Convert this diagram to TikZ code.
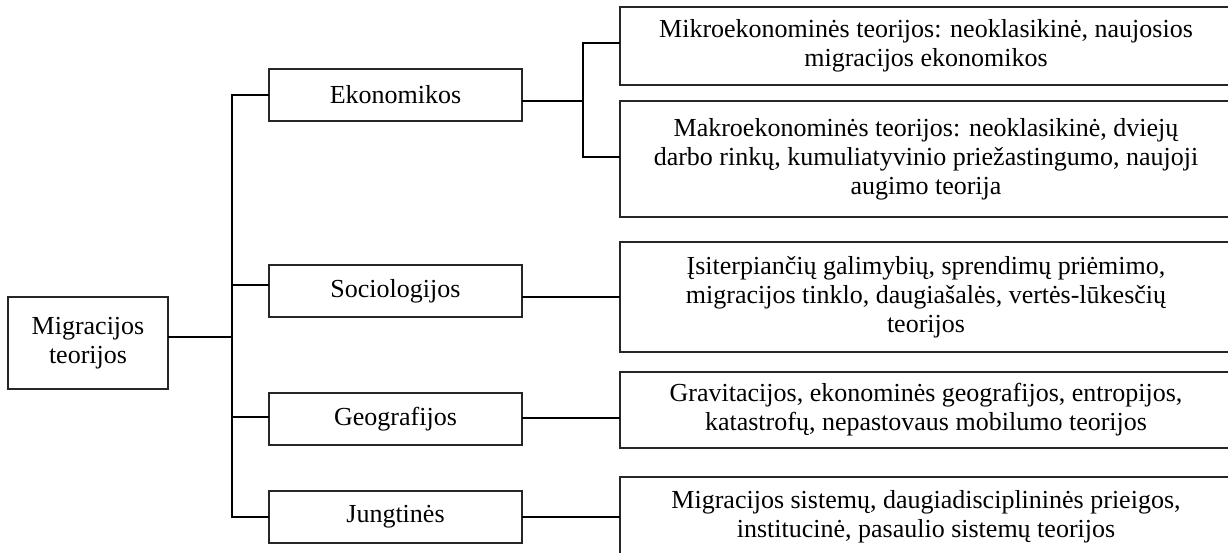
\documentclass[tikz,border=0pt]{standalone}
\usepackage{fontspec}
\setmainfont{Liberation Serif}
\begin{document}
\begin{tikzpicture}[x=1pt,y=-1pt,
  box/.style={draw=black!85,line width=1.2pt,rectangle,inner sep=0pt,align=center,
    font=\fontsize{26}{29}\selectfont},
  lbox/.style={box,minimum width=253,minimum height=52},
  rbox/.style={box,minimum width=612},
  conn/.style={draw=black,line width=1.8pt,line cap=rect}]
\useasboundingbox (0,0) rectangle (1228,552);
\clip (0,0) rectangle (1228,552);
\fill[white] (0,0) rectangle (1228,552);
% left boxes
\node[box,minimum width=160,minimum height=92] (mig) at (88,343) {Migracijos\\teorijos};
\node[lbox] (eko) at (395.5,95) {Ekonomikos};
\node[lbox] (soc) at (395.5,291) {Sociologijos};
\node[lbox] (geo) at (395.5,419) {Geografijos};
\node[lbox] (jun) at (395.5,517) {Jungtinės};
% right boxes
\node[rbox,minimum height=78] (mik) at (926,46) {Mikroekonominės teorijos: neoklasikinė, naujosios\\migracijos ekonomikos};
\node[rbox,minimum height=116] (mak) at (926,159) {Makroekonominės teorijos: neoklasikinė, dviejų\\darbo rinkų, kumuliatyvinio priežastingumo, naujoji\\augimo teorija};
\node[rbox,minimum height=110] (soc2) at (926,297) {Įsiterpiančių galimybių, sprendimų priėmimo,\\migracijos tinklo, daugiašalės, vertės-lūkesčių\\teorijos};
\node[rbox,minimum height=76] (geo2) at (926,410) {Gravitacijos, ekonominės geografijos, entropijos,\\katastrofų, nepastovaus mobilumo teorijos};
\node[rbox,minimum height=80] (jun2) at (926,517) {Migracijos sistemų, daugiadisciplininės prieigos,\\institucinė, pasaulio sistemų teorijos};
% trunk coordinates
\coordinate (t1) at (232,95);
\coordinate (t2) at (232,285);
\coordinate (tm) at (232,337);
\coordinate (t3) at (232,417);
\coordinate (t4) at (232,517);
\draw[conn] (t1) -- (t4);
\draw[conn] (mig.east |- tm) -- (tm);
\draw[conn] (t1) -- (eko.west);
\draw[conn] (t2) -- (t2 -| soc.west);
\draw[conn] (t3) -- (t3 -| geo.west);
\draw[conn] (t4) -- (jun.west);
% right connectors
\coordinate (b0) at (583,101);
\coordinate (b1) at (583,43);
\coordinate (b2) at (583,157);
\draw[conn] (b0 -| eko.east) -- (b0);
\draw[conn] (b1 -| mik.west) -- (b1) -- (b2) -- (b2 -| mak.west);
\draw[conn] (soc.east |- soc2.west) -- (soc2.west);
\coordinate (g1) at (600,418);
\draw[conn] (g1 -| geo.east) -- (g1 -| geo2.west);
\draw[conn] (jun.east) -- (jun2.west);
\end{tikzpicture}
\end{document}
